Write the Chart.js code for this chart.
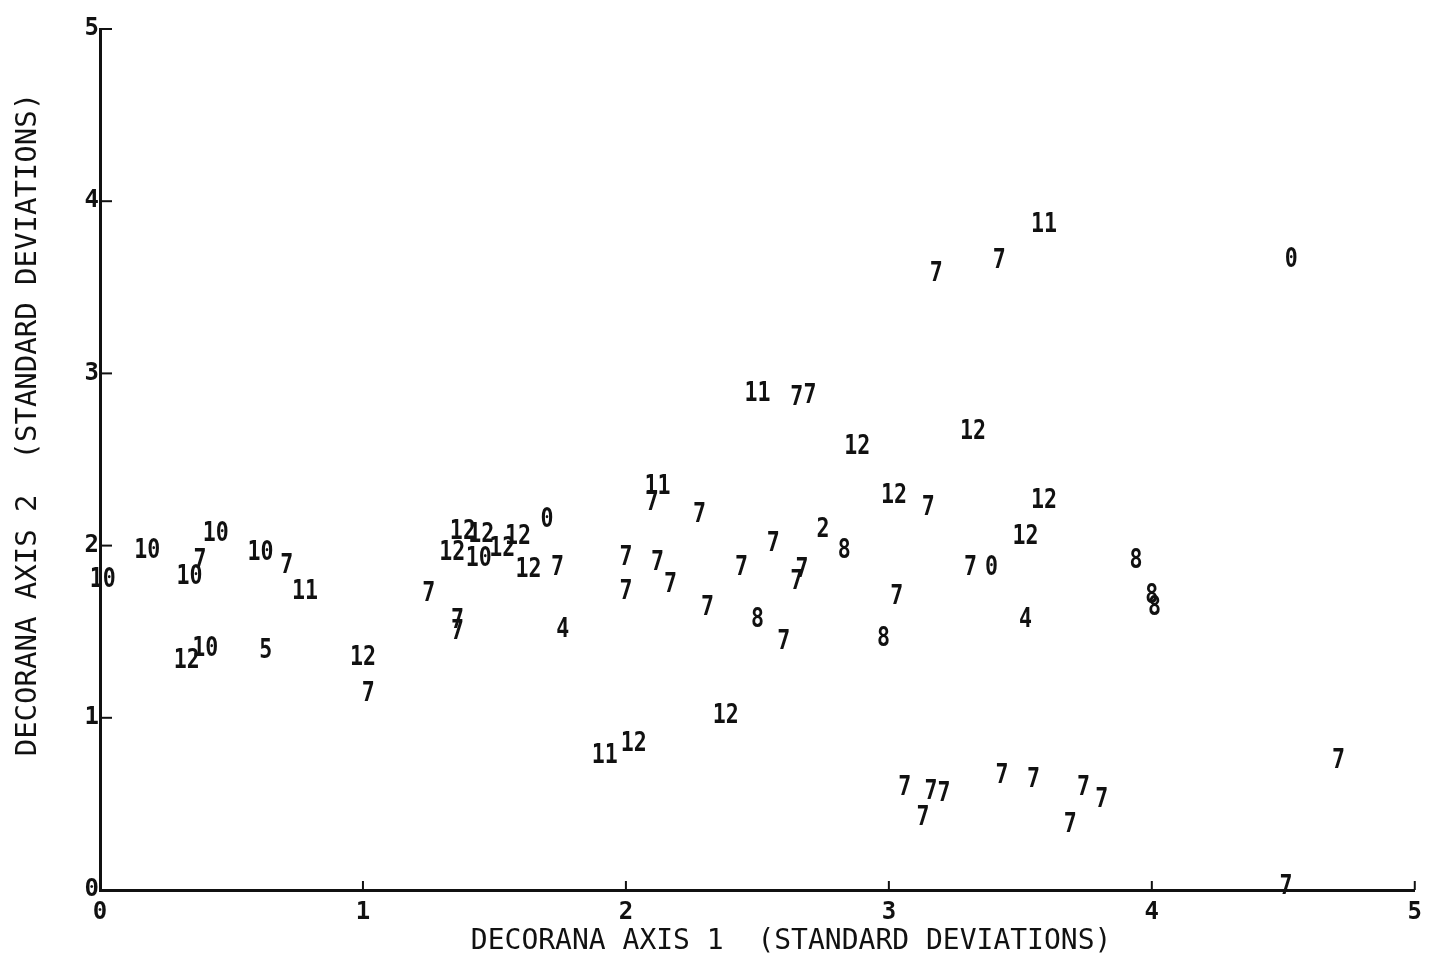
<!DOCTYPE html>
<html>
<head>
<meta charset="utf-8">
<script src="https://cdn.jsdelivr.net/npm/chart.js@4/dist/chart.umd.min.js"></script>
<style>
  html, body { margin: 0; padding: 0; background: #fff; }
  #wrap { width: 1430px; height: 961px; }
</style>
</head>
<body>
<div id="wrap"><canvas id="ord"></canvas></div>
<script>
// group number printed at each sample position
const groups = [
  "10", "10", "10", "7", "10", "10", "7", "11", "12", "10",
  "5", "12", "7", "12", "12", "12", "10", "12", "12", "0",
  "12", "7", "7", "7", "7", "4", "11", "7", "7", "7",
  "7", "7", "7", "7", "7", "7", "8", "7", "11", "7",
  "7", "12", "12", "12", "7", "12", "12", "2", "8", "7",
  "7", "8", "7", "7", "0", "4", "8", "8", "8", "11",
  "7", "7", "0", "7", "7", "12", "11", "12", "7", "7",
  "7", "7", "7", "7", "7", "7", "7"
];
// DECORANA axis 1 scores
const axis1 = [
  0.01, 0.18, 0.44, 0.38, 0.34, 0.61, 0.71, 0.78, 0.33, 0.40,
  0.63, 1.00, 1.02, 1.38, 1.45, 1.34, 1.44, 1.53, 1.59, 1.70,
  1.63, 1.74, 1.25, 1.36, 1.36, 1.76, 2.12, 2.10, 2.28, 2.00,
  2.12, 2.00, 2.17, 2.31, 2.56, 2.44, 2.50, 2.60, 2.50, 2.65,
  2.70, 2.88, 3.32, 3.02, 3.15, 3.59, 3.52, 2.75, 2.83, 2.67,
  2.65, 2.98, 3.03, 3.31, 3.39, 3.52, 3.94, 4.00, 4.01, 3.59,
  3.42, 3.18, 4.53, 4.71, 4.51, 2.38, 1.92, 2.03, 3.06, 3.16,
  3.21, 3.13, 3.43, 3.55, 3.74, 3.81, 3.69
];
// DECORANA axis 2 scores
const axis2 = [
  1.80, 1.97, 2.07, 1.91, 1.82, 1.96, 1.88, 1.73, 1.33, 1.40,
  1.39, 1.35, 1.14, 2.08, 2.06, 1.96, 1.92, 1.98, 2.05, 2.15,
  1.86, 1.87, 1.72, 1.56, 1.50, 1.51, 2.34, 2.25, 2.18, 1.93,
  1.90, 1.73, 1.77, 1.64, 2.01, 1.87, 1.57, 1.44, 2.88, 2.86,
  2.87, 2.57, 2.66, 2.29, 2.22, 2.26, 2.05, 2.09, 1.97, 1.86,
  1.79, 1.46, 1.70, 1.87, 1.87, 1.57, 1.91, 1.71, 1.64, 3.86,
  3.65, 3.58, 3.66, 0.75, 0.02, 1.01, 0.78, 0.85, 0.59, 0.57,
  0.56, 0.42, 0.66, 0.64, 0.59, 0.52, 0.38
];
const axisTicks = [0, 1, 2, 3, 4, 5];

const INK = "#111";
const LABEL_FONT = "bold 27px 'DejaVu Sans Mono'";

// prints the group number centred on each point instead of a marker
const textMarks = {
  id: "textMarks",
  afterDatasetsDraw(chart) {
    const ctx = chart.ctx;
    const meta = chart.getDatasetMeta(0);
    ctx.save();
    ctx.fillStyle = INK;
    ctx.font = LABEL_FONT;
    ctx.textAlign = "center";
    ctx.textBaseline = "middle";
    meta.data.forEach((pt, i) => {
      ctx.save();
      ctx.translate(pt.x, pt.y);
      ctx.scale(0.8, 1);
      ctx.fillText(groups[i], 0, 0);
      ctx.restore();
    });
    ctx.restore();
  }
};

// short tick marks pointing into the plot
const innerTicks = {
  id: "innerTicks",
  afterDraw(chart) {
    const { ctx, scales: { x, y } } = chart;
    ctx.save();
    ctx.strokeStyle = INK;
    ctx.lineWidth = 2;
    axisTicks.forEach((v) => {
      const px = x.getPixelForValue(v);
      ctx.beginPath();
      ctx.moveTo(px, y.bottom);
      ctx.lineTo(px, y.bottom - 9);
      ctx.stroke();
      const py = y.getPixelForValue(v);
      ctx.beginPath();
      ctx.moveTo(x.left, py);
      ctx.lineTo(x.left + 12, py);
      ctx.stroke();
    });
    ctx.restore();
  }
};

const points = axis1.map((v, i) => ({ x: v, y: axis2[i] }));

new Chart(document.getElementById("ord"), {
  type: "scatter",
  data: {
    datasets: [{
      label: "samples",
      data: points,
      pointRadius: 0,
      pointHoverRadius: 0,
      clip: false
    }]
  },
  options: {
    responsive: true,
    maintainAspectRatio: false,
    animation: false,
    events: [],
    layout: { padding: { top: 29, right: 15, left: 0, bottom: 0 } },
    plugins: { legend: { display: false }, tooltip: { enabled: false } },
    scales: {
      x: {
        type: "linear",
        min: 0,
        max: 5,
        afterBuildTicks: (s) => { s.ticks = axisTicks.map((v) => ({ value: v })); },
        afterFit: (s) => { s.height = 71; },
        grid: { display: false, drawTicks: false },
        border: { display: true, color: INK, width: 3 },
        ticks: {
          color: INK,
          padding: 8,
          maxRotation: 0,
          font: { family: "DejaVu Sans Mono", size: 24, weight: "bold" }
        },
        title: {
          display: true,
          // leading blanks keep the plotter's off-centre placement
          text: "    DECORANA AXIS 1  (STANDARD DEVIATIONS)",
          color: INK,
          padding: { top: 0, bottom: 2 },
          font: { family: "DejaVu Sans Mono", size: 28 }
        }
      },
      y: {
        type: "linear",
        min: 0,
        max: 5,
        afterBuildTicks: (s) => { s.ticks = axisTicks.map((v) => ({ value: v })); },
        afterFit: (s) => { s.width = 100; },
        grid: { display: false, drawTicks: false },
        border: { display: true, color: INK, width: 3 },
        ticks: {
          color: INK,
          padding: 1,
          font: { family: "DejaVu Sans Mono", size: 24, weight: "bold" }
        },
        title: {
          display: true,
          text: "    DECORANA AXIS 2  (STANDARD DEVIATIONS)",
          color: INK,
          padding: { top: 11, bottom: 0 },
          font: { family: "DejaVu Sans Mono", size: 29 }
        }
      }
    }
  },
  plugins: [textMarks, innerTicks]
});
</script>
</body>
</html>
